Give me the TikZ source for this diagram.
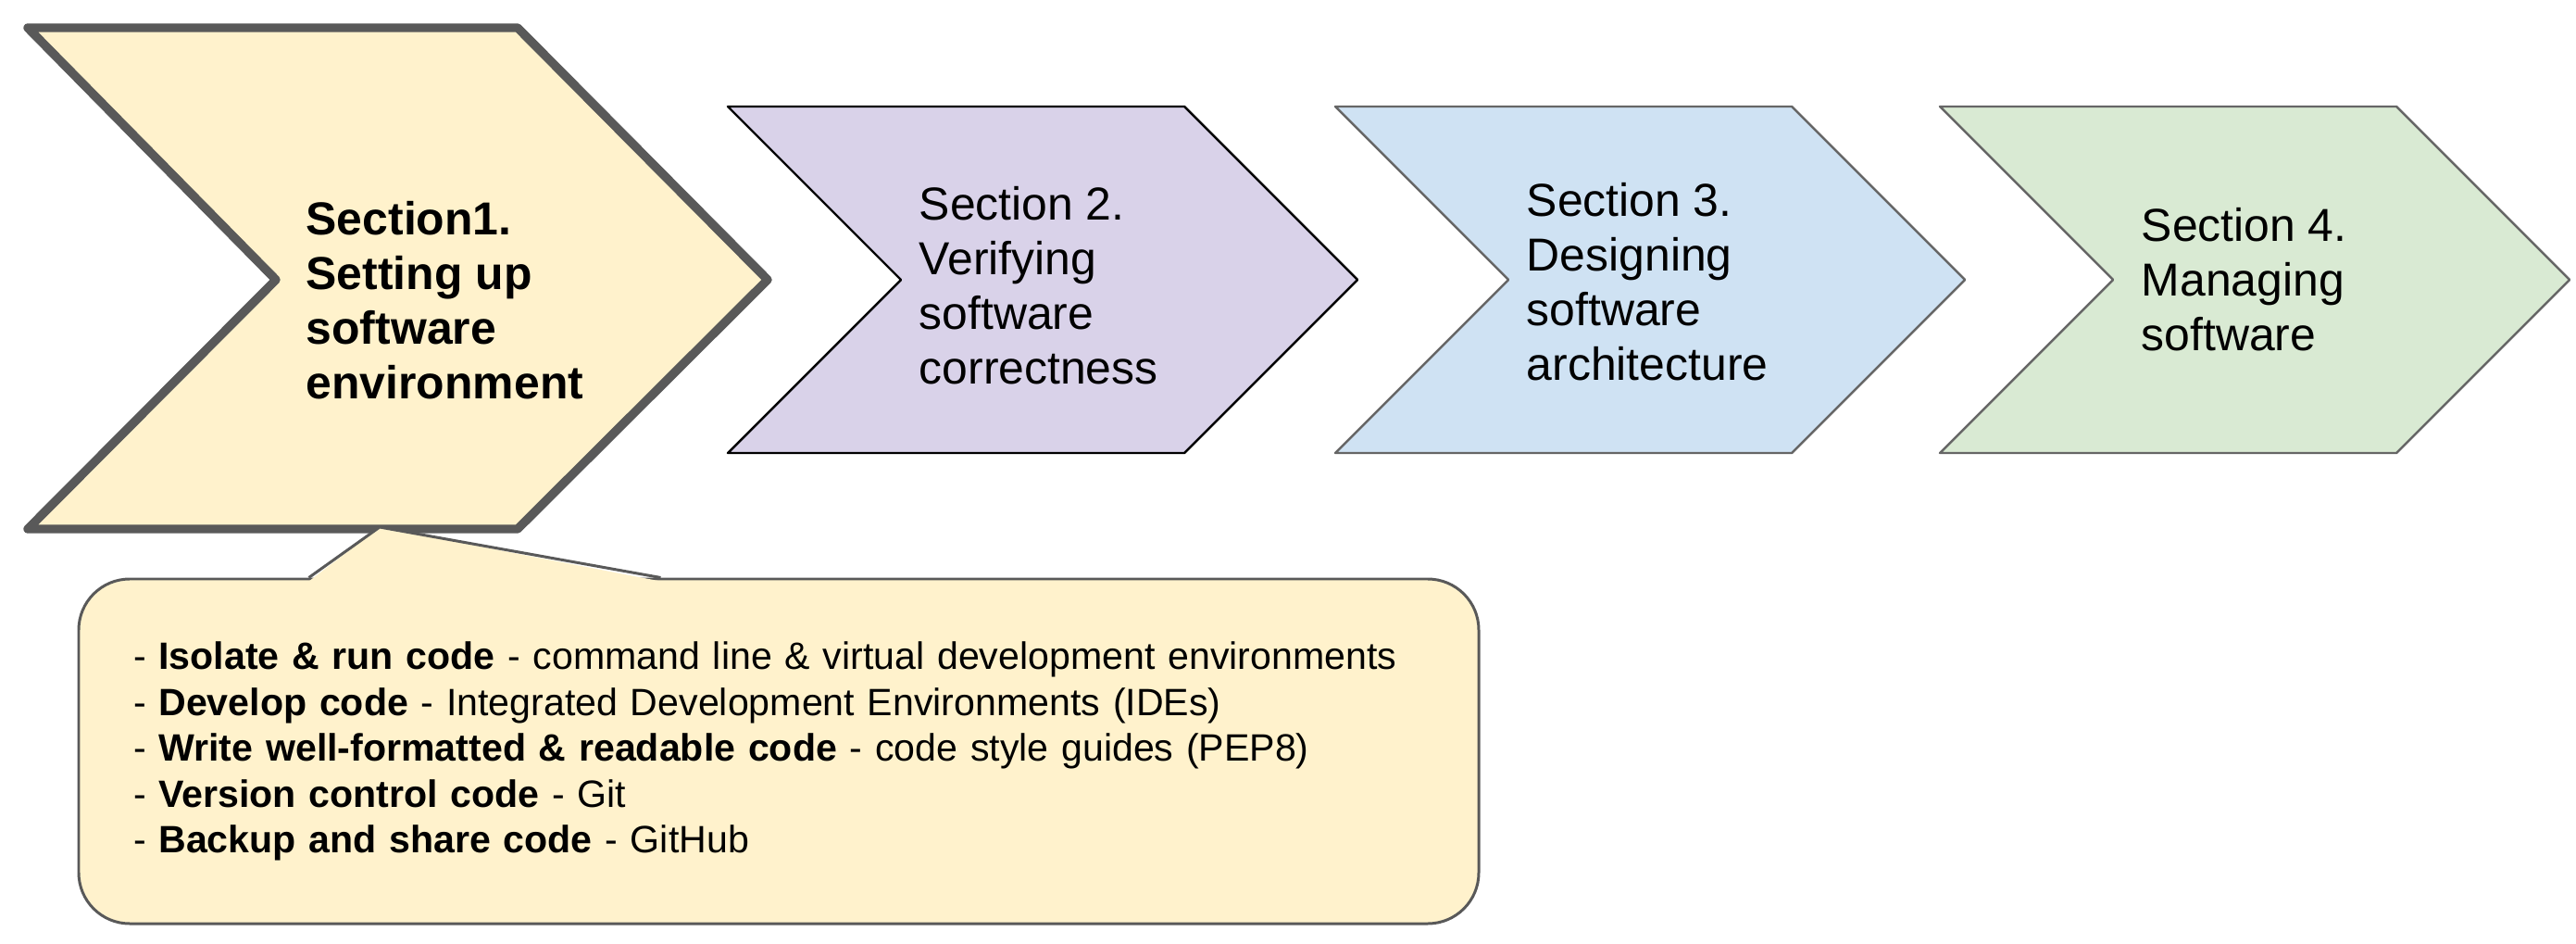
\documentclass[tikz,border=0pt]{standalone}
\usepackage{fontspec}
\setmainfont{Liberation Sans}
\usetikzlibrary{calc}
\hyphenpenalty=10000
\definecolor{cyellow}{HTML}{FFF2CC}
\definecolor{cpurple}{HTML}{D9D2E9}
\definecolor{cblue}{HTML}{CFE2F3}
\definecolor{cgreen}{HTML}{D9EAD3}
\definecolor{cdark}{HTML}{595959}
\definecolor{cgrey}{HTML}{666666}
\tikzset{
  every picture/.style={line join=round},
  chev/.style={fill=#1, draw=cgrey, line width=0.7pt},
  chev/.default=cblue,
  label/.style={anchor=west, align=left, inner sep=0pt, font=\fontsize{14.2pt}{16.8pt}\selectfont},
  callout/.style={draw=cdark, fill=cyellow, line width=0.85pt, rounded corners=0.55cm, align=left},
}
\begin{document}
\begin{tikzpicture}
  \useasboundingbox (0,0) rectangle (27.82,10.18);
  \draw[chev=cyellow, draw=cdark, line width=2.7pt] (0.30,9.88) -- (5.59,9.88) -- (8.29,7.16) -- (5.59,4.47) -- (0.30,4.47) -- (2.98,7.16) -- cycle;
  \foreach \x/\c/\e in {7.86/cpurple/black, 14.42/cblue/cgrey, 20.95/cgreen/cgrey}
    \draw[chev=\c, draw=\e] (\x,9.03) -- ++(4.93,0) -- ++(1.87,-1.87) -- ++(-1.87,-1.87) -- ++(-4.93,0) -- ++(1.87,1.87) -- cycle;
  \node[label, font=\fontsize{14.2pt}{16.8pt}\selectfont\bfseries] (s1) at (3.30,6.94) {Section1.\\Setting up\\software\\environment};
  \node[label] (s2) at (9.92,7.10) {Section 2.\\Verifying\\software\\correctness};
  \node[label] (s3) at (16.48,7.14) {Section 3.\\Designing\\software\\architecture};
  \node[label] (s4) at (23.12,7.16) {Section 4.\\Managing\\software};
  \node[callout, minimum width=15.12cm, minimum height=3.72cm, text width=13.94cm, inner xsep=0.59cm,
    font=\fontsize{11.7pt}{14.1pt}\selectfont] (notes) at (8.41,2.07)
    {- \textbf{Isolate \& run code} - command line \& virtual development environments\\
     - \textbf{Develop code} - Integrated Development Environments (IDEs)\\
     - \textbf{Write well-formatted \& readable code} - code style guides (PEP8)\\
     - \textbf{Version control code} - Git\\
     - \textbf{Backup and share code} - GitHub};
  \coordinate (ptr) at (4.10,4.49);
  \fill[cyellow] ($(notes.north west)+(2.50,-0.04)$) -- (ptr) -- ($(notes.north west)+(6.30,-0.04)$) -- cycle;
  \draw[cdark, line width=0.85pt] ($(notes.north west)+(2.50,0)$) -- (ptr) -- ($(notes.north west)+(6.30,0)$);
\end{tikzpicture}
\end{document}
